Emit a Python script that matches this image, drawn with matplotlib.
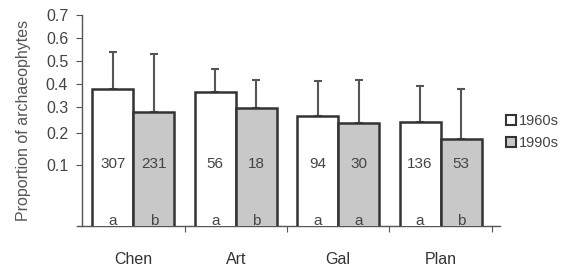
import matplotlib
matplotlib.use("Agg")
import matplotlib.pyplot as plt
import numpy as np
from matplotlib.patches import Patch

plt.rcParams["font.family"] = ["Liberation Sans", "DejaVu Sans"]

regions = ["Chen", "Art", "Gal", "Plan"]
prop_1960s = [0.375, 0.364, 0.265, 0.240]
prop_1990s = [0.279, 0.295, 0.237, 0.178]
upper_1960s = [0.538, 0.465, 0.413, 0.390]
upper_1990s = [0.532, 0.416, 0.416, 0.375]
n_1960s = ["307", "56", "94", "136"]
n_1990s = ["231", "18", "30", "53"]
letters_1960s = ["a", "a", "a", "a"]
letters_1990s = ["b", "b", "a", "b"]
y_ticks = [0.1, 0.2, 0.3, 0.4, 0.5, 0.6, 0.7]


def _fwd(p):
    return np.arcsin(np.sqrt(np.clip(p, 0, 1)))


def _inv(t):
    return np.sin(np.clip(t, 0, np.pi / 2)) ** 2


edge = "#333333"
grey = "#555555"
txt = "#444444"

fig = plt.figure(figsize=(5.63, 2.67), dpi=100)
ax = fig.add_axes([0.1368, 0.1536, 0.7512, 0.7904])
ax.set_yscale("function", functions=(_fwd, _inv))

x = np.arange(len(regions)) + 0.5
w = 0.4
ax.bar(x - w / 2, prop_1960s, w, color="white", edgecolor=edge, linewidth=1.8, zorder=3)
ax.bar(x + w / 2, prop_1990s, w, color="#c8c8c8", edgecolor=edge, linewidth=1.8, zorder=3)

for xs, vals, ups in [(x - w / 2, prop_1960s, upper_1960s), (x + w / 2, prop_1990s, upper_1990s)]:
    vals = np.array(vals)
    ups = np.array(ups)
    ax.errorbar(xs, vals, yerr=[np.zeros_like(vals), ups - vals], fmt="none",
                ecolor=grey, elinewidth=1.5, capsize=3, capthick=1.5, zorder=2)

for i in range(len(regions)):
    ax.text(x[i] - w / 2, 0.103, n_1960s[i], ha="center", va="center", fontsize=11, color=txt, zorder=4)
    ax.text(x[i] + w / 2, 0.103, n_1990s[i], ha="center", va="center", fontsize=11, color=txt, zorder=4)
    ax.text(x[i] - w / 2, 0.0052, letters_1960s[i], ha="center", va="center", fontsize=11, color=txt, zorder=4)
    ax.text(x[i] + w / 2, 0.0052, letters_1990s[i], ha="center", va="center", fontsize=11, color=txt, zorder=4)

ax.set_ylim(0.0023, 0.7)
ax.set_xlim(-0.05, 4.08)
ax.spines["left"].set_position(("data", 0))
ax.spines["top"].set_visible(False)
ax.spines["right"].set_visible(False)
for s in ["left", "bottom"]:
    ax.spines[s].set_color(grey)
    ax.spines[s].set_linewidth(1.0)

ax.set_yticks(y_ticks)
ax.set_yticklabels([f"{v:.1f}" for v in y_ticks], fontsize=11.5, color=txt)
ax.yaxis.set_minor_locator(matplotlib.ticker.NullLocator())
ax.tick_params(axis="y", length=4, color=grey, pad=6)

ax.set_xticks([1, 2, 3, 4])
ax.set_xticklabels([])
ax.tick_params(axis="x", length=4, color=grey, direction="out")
for i, r in enumerate(regions):
    ax.text(x[i], -0.16, r, transform=ax.get_xaxis_transform(), ha="center", va="center",
            fontsize=11.5, color="#333333")

ax.set_ylabel("Proportion of archaeophytes", fontsize=11.5, color=grey, labelpad=11)

handles = [Patch(facecolor="white", edgecolor=edge, linewidth=1.5, label="1960s"),
           Patch(facecolor="#c8c8c8", edgecolor=edge, linewidth=1.5, label="1990s")]
fig.legend(handles=handles, loc="center left", bbox_to_anchor=(0.899, 0.505), frameon=False,
           fontsize=10.5, handlelength=0.65, handleheight=0.65, handletextpad=0.2, labelspacing=0.55,
           labelcolor=txt, borderaxespad=0.0, borderpad=0.0)

fig.savefig("out.png", dpi=100, facecolor="white")
plt.close()
